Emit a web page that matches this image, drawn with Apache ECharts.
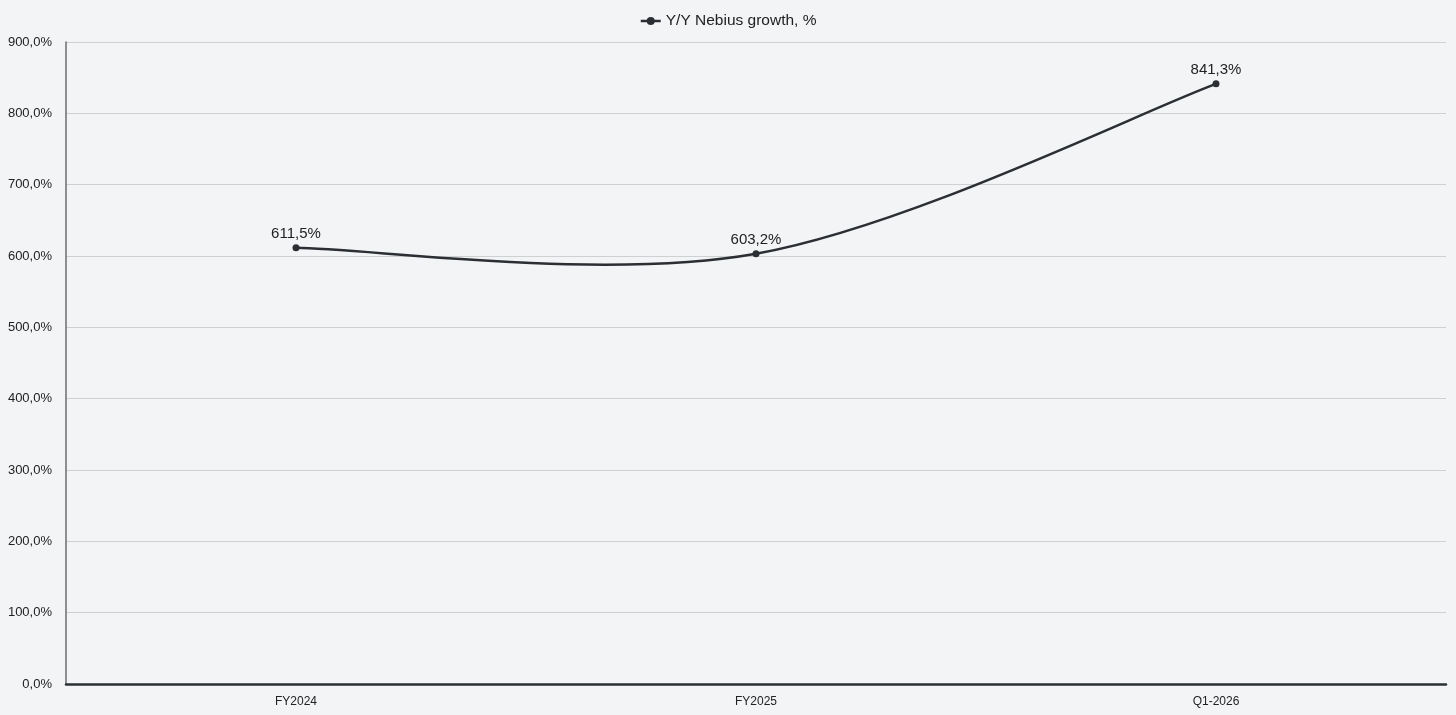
<!DOCTYPE html>
<html><head><meta charset="utf-8">
<script src="https://cdn.jsdelivr.net/npm/echarts@6/dist/echarts.min.js"></script>
<style>html,body{margin:0;padding:0;background:#f3f4f6;}#c{width:1456px;height:715px;}</style>
</head><body><div id="c"></div>
<script>
const categories = ['FY2024', 'FY2025', 'Q1-2026'];
const growthValues = [611.5, 603.2, 841.3];
const seriesName = 'Y/Y Nebius growth, %';
const yTicks = { min: 0, max: 900, interval: 100 };

const fmt = v => v.toFixed(1).replace('.', ',') + '%';
const lineColor = '#2b2f33';
const chart = echarts.init(document.getElementById('c'));

// Spline curve (Catmull-Rom style, like a spreadsheet smoothed line) through the data points,
// positioned via the chart's own axes (api.coord).
function renderCurve(params, api) {
  if (params.dataIndex !== 0) return null;
  const pts = growthValues.map((v, i) => api.coord([i, v]));
  const n = pts.length;
  const children = [];
  for (let i = 0; i < n - 1; i++) {
    const p0 = pts[Math.max(i - 1, 0)], p1 = pts[i], p2 = pts[i + 1], p3 = pts[Math.min(i + 2, n - 1)];
    children.push({
      type: 'bezierCurve',
      shape: {
        x1: p1[0], y1: p1[1], x2: p2[0], y2: p2[1],
        cpx1: p1[0] + (p2[0] - p0[0]) / 6, cpy1: p1[1] + (p2[1] - p0[1]) / 6,
        cpx2: p2[0] - (p3[0] - p1[0]) / 6, cpy2: p2[1] - (p3[1] - p1[1]) / 6
      },
      style: { stroke: lineColor, lineWidth: 2.5, fill: null }
    });
  }
  return { type: 'group', children };
}

chart.setOption({
  backgroundColor: '#f3f4f6',
  textStyle: { fontFamily: 'Liberation Sans, Arial, sans-serif' },
  legend: {
    top: 8, left: 'center', itemWidth: 20, itemHeight: 10, itemGap: 6,
    textStyle: { fontSize: 15.5, color: '#222' },
    data: [{ name: seriesName, lineStyle: { opacity: 1, color: lineColor, width: 2.5 } }]
  },
  grid: { left: 66, right: 10, top: 42, bottom: 31, containLabel: false },
  xAxis: {
    type: 'category', data: categories, boundaryGap: true,
    axisLine: { lineStyle: { color: '#2a2f33', width: 2.5 } },
    axisTick: { show: false },
    axisLabel: { color: '#222', fontSize: 12, margin: 12 }
  },
  yAxis: {
    type: 'value', min: yTicks.min, max: yTicks.max, interval: yTicks.interval,
    axisLine: { show: true, lineStyle: { color: '#6e6e6e', width: 1.5 } },
    axisTick: { show: false },
    splitLine: { lineStyle: { color: '#cfd0d2', width: 1 } },
    axisLabel: { color: '#222', fontSize: 13, margin: 14, formatter: v => fmt(v) }
  },
  series: [
    {
      name: 'curve', type: 'custom', renderItem: renderCurve,
      data: growthValues.map((v, i) => [i, v]), z: 2, silent: true
    },
    {
      name: seriesName, type: 'line', data: growthValues, z: 3,
      symbol: 'circle', symbolSize: 7,
      lineStyle: { color: lineColor, width: 2.5, opacity: 0 },
      itemStyle: { color: lineColor },
      label: { show: true, position: 'top', distance: 3, color: '#222', fontSize: 15, formatter: p => fmt(p.value) }
    }
  ]
});
</script></body></html>
